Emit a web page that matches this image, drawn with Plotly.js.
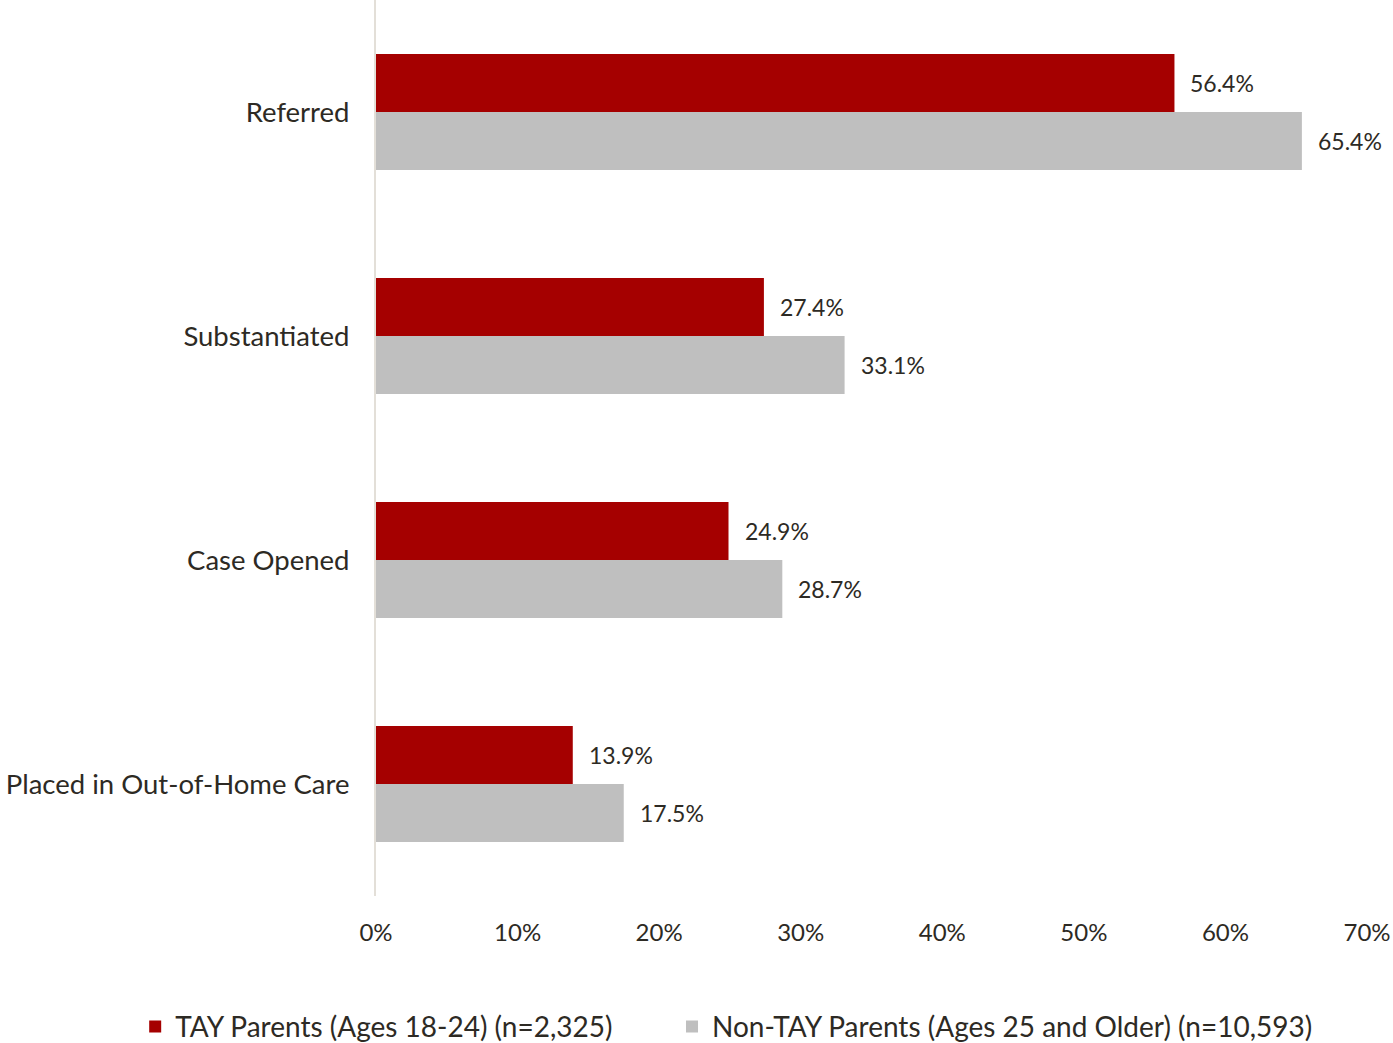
<!DOCTYPE html>
<html>
<head>
<meta charset="utf-8">
<script src="https://cdn.plot.ly/plotly-3.0.1.min.js"></script>
<style>html,body{margin:0;padding:0;background:#fff;}#chart{width:1393px;height:1043px;}</style>
</head>
<body>
<div id="chart"></div>
<script>
const categories = ["Referred", "Substantiated", "Case Opened", "Placed in Out-of-Home Care"];
const tayValues = [56.4, 27.4, 24.9, 13.9];
const nonTayValues = [65.4, 33.1, 28.7, 17.5];
const seriesNames = ["TAY Parents (Ages 18-24) (n=2,325)", "Non-TAY Parents (Ages 25 and Older) (n=10,593)"];
const xTickVals = [0, 10, 20, 30, 40, 50, 60, 70];
const xTickText = ["0%", "10%", "20%", "30%", "40%", "50%", "60%", "70%"];

const FONT = "Lato, 'Open Sans', sans-serif";
const TEXT = "#2d2a24";

const traces = [
  {type: "bar", orientation: "h", name: seriesNames[0], y: categories, x: tayValues,
   marker: {color: "#a50000"}, hoverinfo: "x", legend: "legend"},
  {type: "bar", orientation: "h", name: seriesNames[1], y: categories, x: nonTayValues,
   marker: {color: "#bfbfbf"}, hoverinfo: "x", legend: "legend2"}
];

const annotations = [];
categories.forEach((c, i) => {
  annotations.push({x: tayValues[i], y: c, xref: "x", yref: "y", text: tayValues[i].toFixed(1) + "%",
    showarrow: false, xanchor: "left", yanchor: "middle", xshift: 14, yshift: 29,
    font: {family: FONT, size: 23, color: TEXT}});
  annotations.push({x: nonTayValues[i], y: c, xref: "x", yref: "y", text: nonTayValues[i].toFixed(1) + "%",
    showarrow: false, xanchor: "left", yanchor: "middle", xshift: 14, yshift: -29,
    font: {family: FONT, size: 23, color: TEXT}});
});

const legendBase = {orientation: "h", xref: "paper", yref: "paper", xanchor: "left",
  y: -0.146, yanchor: "middle", font: {family: FONT, size: 28, color: TEXT}, itemwidth: 30,
  bgcolor: "rgba(0,0,0,0)"};

const layout = {
  width: 1393, height: 1043,
  margin: {l: 376, r: 26, t: 0, b: 147, pad: 0, autoexpand: false},
  paper_bgcolor: "#ffffff", plot_bgcolor: "#ffffff",
  font: {family: FONT, size: 24, color: TEXT},
  barmode: "group", bargap: 0.482, bargroupgap: 0,
  showlegend: true,
  legend: Object.assign({}, legendBase, {x: -0.243}),
  legend2: Object.assign({}, legendBase, {x: 0.2987}),
  xaxis: {range: [0, 70], tickvals: xTickVals, ticktext: xTickText, showgrid: false, zeroline: false,
    showline: false, ticks: "", ticklabelstandoff: 20, tickfont: {family: FONT, size: 24, color: TEXT}, fixedrange: true},
  yaxis: {type: "category", autorange: "reversed", showgrid: false, zeroline: false,
    showline: true, linecolor: "#e3dfd8", linewidth: 2, ticks: "", ticklabelstandoff: 19,
    tickfont: {family: FONT, size: 27.5, color: TEXT}, fixedrange: true},
  annotations: annotations
};

Plotly.newPlot("chart", traces, layout, {displayModeBar: false, staticPlot: true});
</script>
</body>
</html>
